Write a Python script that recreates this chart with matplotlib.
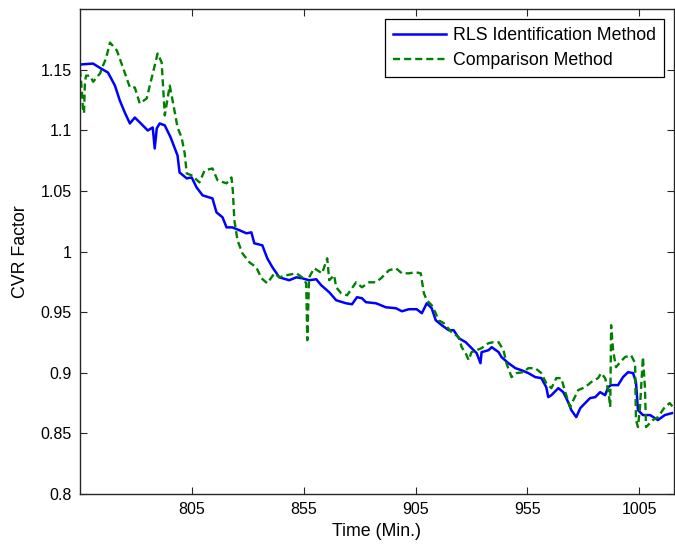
import matplotlib
matplotlib.use("Agg")
import matplotlib.pyplot as plt

# RLS Identification Method (blue, solid)
rls_time = [755.0, 760.8, 764.4, 767.5, 770.6, 772.8, 775.0, 777.3, 779.5, 782.2,
            785.3, 787.5, 788.4, 789.3, 790.6, 792.9, 795.5, 798.6, 799.5, 802.7,
            804.9, 807.1, 809.8, 814.2, 816.0, 818.7, 820.5, 823.1, 826.3, 829.4,
            831.6, 832.9, 836.5, 838.7, 841.0, 844.1, 848.5, 851.7, 854.3, 857.4,
            860.6, 862.8, 866.4, 869.5, 873.9, 876.6, 878.8, 881.0, 882.8, 887.3,
            891.7, 896.2, 898.9, 902.0, 905.5, 907.8, 910.0, 912.2, 914.0, 916.7,
            919.8, 922.0, 924.3, 927.4, 929.6, 932.3, 934.0, 934.5, 937.6, 939.0,
            942.1, 943.4, 946.5, 949.6, 952.3, 955.4, 958.5, 961.2, 963.4, 964.3,
            965.7, 968.8, 971.0, 973.2, 974.6, 976.8, 978.6, 980.8, 983.0, 985.3,
            987.5, 989.7, 991.1, 992.4, 995.5, 997.7, 1000.0, 1002.2, 1003.5, 1004.4,
            1006.6, 1009.8, 1013.3, 1016.4, 1019.6]
rls_cvr = [1.1542, 1.1550, 1.1509, 1.1476, 1.1369, 1.1245, 1.1147, 1.1056, 1.1105, 1.1056,
           1.0998, 1.1023, 1.0850, 1.1015, 1.1056, 1.1040, 1.0941, 1.0792, 1.0652, 1.0603,
           1.0611, 1.0529, 1.0463, 1.0438, 1.0323, 1.0282, 1.0199, 1.0199, 1.0175, 1.0150,
           1.0158, 1.0068, 1.0051, 0.9944, 0.9870, 0.9787, 0.9763, 0.9787, 0.9779, 0.9763,
           0.9771, 0.9722, 0.9664, 0.9598, 0.9573, 0.9565, 0.9623, 0.9615, 0.9582, 0.9573,
           0.9540, 0.9532, 0.9507, 0.9524, 0.9524, 0.9491, 0.9573, 0.9532, 0.9433, 0.9392,
           0.9351, 0.9351, 0.9285, 0.9252, 0.9211, 0.9161, 0.9079, 0.9170, 0.9186, 0.9211,
           0.9170, 0.9129, 0.9079, 0.9038, 0.9021, 0.8997, 0.8964, 0.8956, 0.8881, 0.8799,
           0.8815, 0.8873, 0.8840, 0.8758, 0.8692, 0.8634, 0.8708, 0.8750, 0.8791, 0.8799,
           0.8840, 0.8815, 0.8881, 0.8898, 0.8898, 0.8964, 0.9005, 0.8997, 0.8923, 0.8692,
           0.8651, 0.8651, 0.8610, 0.8651, 0.8667]

# Comparison Method (green, dashed)
cmp_time = [755.0, 755.5, 756.0, 756.3, 756.8, 757.2, 757.7, 759.5, 760.9, 762.2,
            764.0, 765.2, 766.6, 768.4, 771.5, 774.2, 777.3, 779.5, 781.7, 784.8,
            787.1, 789.7, 791.5, 792.9, 795.1, 796.4, 798.6, 800.4, 801.8, 802.7,
            804.9, 808.4, 810.7, 814.2, 816.5, 820.5, 822.7, 823.3, 824.0, 825.4,
            827.6, 830.7, 833.8, 836.1, 838.7, 841.9, 844.1, 847.2, 851.7, 854.3,
            856.1, 856.6, 857.4, 859.7, 863.2, 865.5, 866.4, 868.6, 869.5, 871.7,
            874.4, 878.4, 881.0, 884.2, 887.3, 890.0, 893.1, 896.2, 898.9, 902.0,
            905.1, 907.3, 908.7, 910.0, 912.2, 914.0, 915.3, 917.6, 921.1, 924.3,
            925.6, 927.4, 928.7, 930.0, 932.3, 934.5, 937.6, 939.8, 942.1, 944.3,
            945.6, 947.9, 950.1, 953.2, 955.4, 958.5, 961.2, 963.4, 965.7, 967.9,
            970.1, 971.9, 974.1, 975.5, 977.7, 980.8, 983.5, 986.6, 987.9, 989.7,
            991.1, 992.0, 992.4, 993.3, 994.6, 996.4, 998.6, 1001.3, 1003.1, 1003.5,
            1004.4, 1005.3, 1006.6, 1007.5, 1008.0, 1009.8, 1011.1, 1013.3, 1016.4, 1018.6,
            1020.0]
cmp_cvr = [1.1500, 1.1400, 1.1280, 1.1180, 1.1140, 1.1400, 1.1450, 1.1450, 1.1400, 1.1430,
           1.1470, 1.1530, 1.1590, 1.1723, 1.1657, 1.1517, 1.1353, 1.1353, 1.1221, 1.1262,
           1.1435, 1.1633, 1.1559, 1.1122, 1.1369, 1.1245, 1.1023, 1.0941, 1.0809, 1.0644,
           1.0628, 1.0570, 1.0669, 1.0685, 1.0587, 1.0562, 1.0611, 1.0504, 1.0257, 1.0092,
           0.9985, 0.9911, 0.9870, 0.9779, 0.9738, 0.9820, 0.9787, 0.9804, 0.9820, 0.9787,
           0.9738, 0.9269, 0.9787, 0.9862, 0.9820, 0.9944, 0.9763, 0.9804, 0.9705, 0.9656,
           0.9639, 0.9746, 0.9705, 0.9746, 0.9746, 0.9787, 0.9845, 0.9862, 0.9820, 0.9820,
           0.9829, 0.9820, 0.9656, 0.9598, 0.9557, 0.9491, 0.9433, 0.9409, 0.9334, 0.9293,
           0.9211, 0.9161, 0.9104, 0.9170, 0.9186, 0.9203, 0.9244, 0.9252, 0.9252, 0.9186,
           0.9079, 0.8964, 0.8997, 0.9005, 0.9038, 0.9038, 0.8997, 0.8914, 0.8873, 0.8956,
           0.8956, 0.8840, 0.8717, 0.8774, 0.8857, 0.8881, 0.8923, 0.8956, 0.8997, 0.8956,
           0.8857, 0.8717, 0.9392, 0.9180, 0.9046, 0.9087, 0.9129, 0.9145, 0.9079, 0.8610,
           0.8552, 0.8717, 0.9129, 0.8881, 0.8552, 0.8585, 0.8610, 0.8634, 0.8717, 0.8750,
           0.8717]

x_ticks = [805, 855, 905, 955, 1005]
y_ticks = [0.8, 0.85, 0.9, 0.95, 1.0, 1.05, 1.1, 1.15]
y_tick_labels = ["0.8", "0.85", "0.9", "0.95", "1", "1.05", "1.1", "1.15"]

plt.rcParams['font.family'] = ['Liberation Sans', 'DejaVu Sans']
plt.rcParams['font.size'] = 11.5

fig = plt.figure(figsize=(6.75, 5.46), dpi=100)
ax = fig.add_axes([80 / 675, 52 / 546, 594 / 675, 485 / 546])

ax.plot(rls_time, rls_cvr, color='#0000ff', lw=1.8, ls='-',
        label='RLS Identification Method')
ax.plot(cmp_time, cmp_cvr, color='#008000', lw=1.7, ls=(0, (3.0, 1.7)),
        label='Comparison Method')

ax.set_xlim(755, 1020.5)
ax.set_ylim(0.8, 1.2)
ax.set_xticks(x_ticks)
ax.set_yticks(y_ticks)
ax.set_yticklabels(y_tick_labels)
ax.tick_params(direction='in', top=True, right=True, length=5, width=0.8,
               colors='#262626', labelcolor='black', pad=6, labelsize=11.5)
for s in ax.spines.values():
    s.set_linewidth(1.0)
    s.set_color('#262626')

ax.set_xlabel('Time (Min.)', labelpad=4, fontsize=12.8)
ax.set_ylabel('CVR Factor', labelpad=8, fontsize=12.8)

leg = ax.legend(loc='upper right', fancybox=False, edgecolor='black',
                framealpha=1, handlelength=3.0, handletextpad=0.4,
                borderaxespad=0.55, borderpad=0.45, labelspacing=0.45,
                fontsize=12.8)
leg.get_frame().set_linewidth(0.9)

fig.savefig('out.png', dpi=100)
